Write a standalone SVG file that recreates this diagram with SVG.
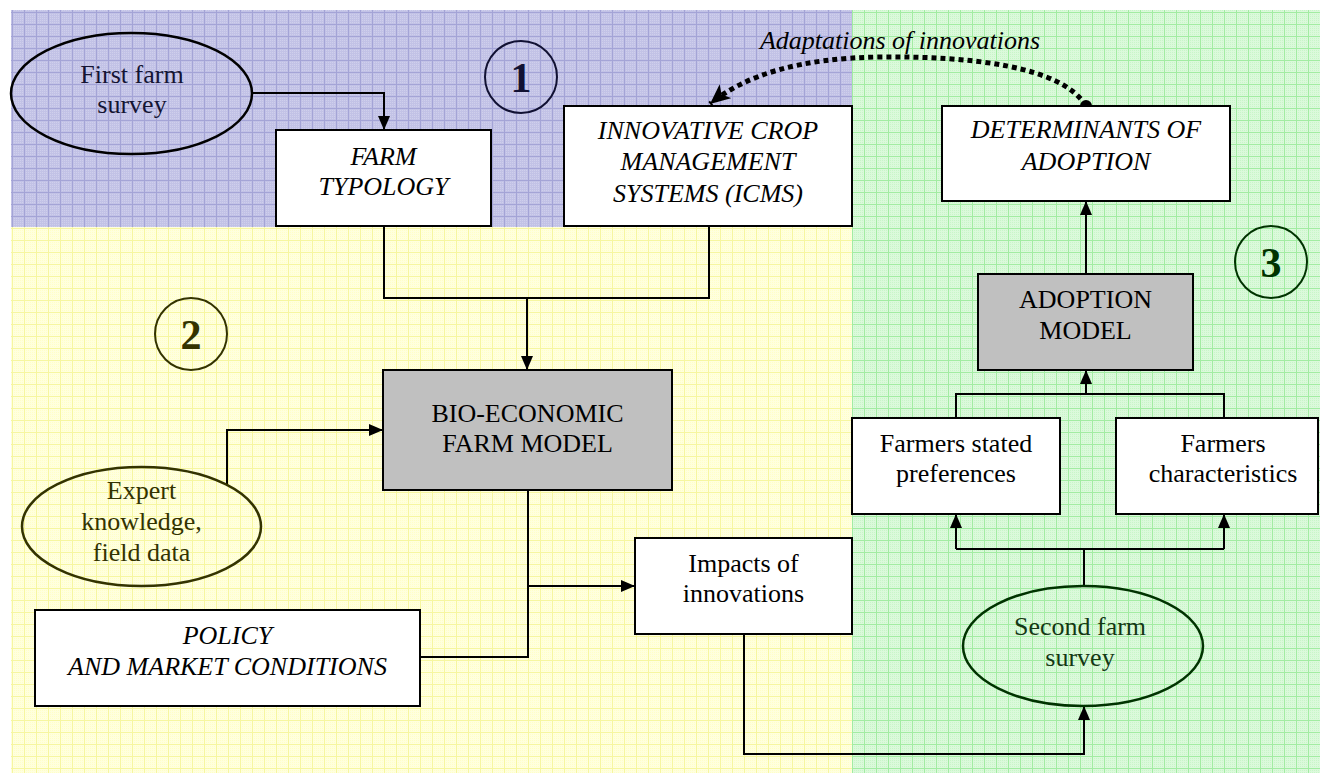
<svg xmlns="http://www.w3.org/2000/svg" width="1320" height="773" viewBox="0 0 1320 773">
<defs>
  <pattern id="pBlue" width="12" height="12" patternUnits="userSpaceOnUse">
    <rect width="12" height="12" fill="#cfcfec"/>
    <path d="M0,1.5H12M0,3.5H12M0,5.5H12M0,7.5H12M0,9.5H12M0,11.5H12M1.5,0V12M3.5,0V12M5.5,0V12M7.5,0V12M9.5,0V12M11.5,0V12" stroke="#a9a9d9" stroke-width="1" opacity="0.35"/>
    <path d="M0,0.5H12M0.5,0V12" stroke="#a4a4d6" stroke-width="1"/>
  </pattern>
  <pattern id="pYellow" width="12" height="12" patternUnits="userSpaceOnUse">
    <rect width="12" height="12" fill="#ffffc8"/>
    <path d="M0,1.5H12M0,3.5H12M0,5.5H12M0,7.5H12M0,9.5H12M0,11.5H12M1.5,0V12M3.5,0V12M5.5,0V12M7.5,0V12M9.5,0V12M11.5,0V12" stroke="#ffffff" stroke-width="1" opacity="0.4"/>
    <path d="M0,0.5H12M0.5,0V12" stroke="#f6f6a0" stroke-width="1"/>
  </pattern>
  <pattern id="pGreen" width="12" height="12" patternUnits="userSpaceOnUse">
    <rect width="12" height="12" fill="#c8f6c8"/>
    <path d="M0,1.5H12M0,3.5H12M0,5.5H12M0,7.5H12M0,9.5H12M0,11.5H12M1.5,0V12M3.5,0V12M5.5,0V12M7.5,0V12M9.5,0V12M11.5,0V12" stroke="#ffffff" stroke-width="1" opacity="0.35"/>
    <path d="M0,0.5H12M0.5,0V12" stroke="#a2eca2" stroke-width="1"/>
  </pattern>
  <marker id="arr" viewBox="0 0 14 12" markerWidth="14" markerHeight="12" refX="14" refY="6" orient="auto" markerUnits="userSpaceOnUse">
    <path d="M0,0 L14,6 L0,12 z" fill="#000"/>
  </marker>
  <marker id="arrBig" viewBox="0 0 20 18" markerWidth="20" markerHeight="18" refX="20" refY="9" orient="auto" markerUnits="userSpaceOnUse">
    <path d="M0,0 L20,9 L0,18 L5,9 z" fill="#000"/>
  </marker>
  <marker id="dot" viewBox="0 0 12 12" markerWidth="12" markerHeight="12" refX="6" refY="6" markerUnits="userSpaceOnUse">
    <circle cx="6" cy="6" r="6" fill="#000"/>
  </marker>
  <style>
    text { font-family: "Liberation Serif", "Times New Roman", serif; font-size: 26px; fill: #000; text-anchor: middle; }
    .it { font-style: italic; }
    .num { font-size: 42px; font-weight: bold; }
    .box { fill: #fff; stroke: #000; stroke-width: 2; }
    .gbox { fill: #c0c0c0; stroke: #000; stroke-width: 2; }
    .conn { fill: none; stroke: #000; stroke-width: 2; }
    .ell { fill: none; stroke-width: 2.5; }
  </style>
</defs>

<g id="background">
  <rect x="0" y="0" width="1320" height="773" fill="#fff"/>
  <rect x="11" y="10" width="841" height="217" fill="url(#pBlue)"/>
  <rect x="11" y="227" width="841" height="546" fill="url(#pYellow)"/>
  <rect x="852" y="10" width="468" height="763" fill="url(#pGreen)"/>
</g>

<g id="connectors">
  <path class="conn" d="M252,93 H384 V130" marker-end="url(#arr)"/>
  <path class="conn" d="M384,226 V298 H709 V226"/>
  <path class="conn" d="M527,298 V370" marker-end="url(#arr)"/>
  <path class="conn" d="M227,485 V430 H383" marker-end="url(#arr)"/>
  <path class="conn" d="M420,657 H528 V490"/>
  <path class="conn" d="M528,586 H635" marker-end="url(#arr)"/>
  <path class="conn" d="M744,634 V754 H1084 V706" marker-end="url(#arr)"/>
  <path class="conn" d="M1084,586 V549"/>
  <path class="conn" d="M956,549 H1224"/>
  <path class="conn" d="M956,549 V514" marker-end="url(#arr)"/>
  <path class="conn" d="M1224,549 V514" marker-end="url(#arr)"/>
  <path class="conn" d="M956,418 V394 H1224 V418"/>
  <path class="conn" d="M1086,394 V370" marker-end="url(#arr)"/>
  <path class="conn" d="M1086,274 V201" marker-end="url(#arr)"/>
  <path d="M1086,106 C1062,66 970,56 880,57 C800,58 745,75 710,104" fill="none" stroke="#000" stroke-width="5" stroke-dasharray="5 4" marker-start="url(#dot)" marker-end="url(#arrBig)"/>
  <text class="it" x="900" y="49">Adaptations of innovations</text>
</g>

<g id="first-survey">
  <ellipse class="ell" cx="131.5" cy="93.5" rx="120.5" ry="60.5" stroke="#000"/>
  <text x="132" y="83" style="fill:#141433">First farm</text>
  <text x="132" y="113" style="fill:#141433">survey</text>
</g>

<g id="circle-1">
  <circle cx="521" cy="77" r="36" fill="none" stroke="#111133" stroke-width="2"/>
  <text class="num" x="521" y="92" style="fill:#111133">1</text>
</g>

<g id="farm-typology">
  <rect class="box" x="276" y="130" width="215" height="96"/>
  <text class="it" x="383.5" y="165">FARM</text>
  <text class="it" x="383.5" y="195">TYPOLOGY</text>
</g>

<g id="icms">
  <rect class="box" x="564" y="106" width="288" height="120"/>
  <text class="it" x="708" y="139">INNOVATIVE CROP</text>
  <text class="it" x="708" y="170">MANAGEMENT</text>
  <text class="it" x="708" y="202">SYSTEMS (ICMS)</text>
</g>

<g id="determinants">
  <rect class="box" x="942" y="106" width="288" height="95"/>
  <text class="it" x="1086" y="138">DETERMINANTS OF</text>
  <text class="it" x="1086" y="170">ADOPTION</text>
</g>

<g id="circle-2">
  <circle cx="191" cy="334" r="36" fill="none" stroke="#333300" stroke-width="2"/>
  <text class="num" x="191" y="349" style="fill:#333300">2</text>
</g>

<g id="circle-3">
  <circle cx="1271" cy="262" r="36" fill="none" stroke="#003300" stroke-width="2"/>
  <text class="num" x="1271" y="277" style="fill:#003300">3</text>
</g>

<g id="adoption-model">
  <rect class="gbox" x="978" y="274" width="215" height="96"/>
  <text x="1085.5" y="308">ADOPTION</text>
  <text x="1085.5" y="339">MODEL</text>
</g>

<g id="bio-economic">
  <rect class="gbox" x="383" y="370" width="289" height="120"/>
  <text x="527.5" y="422">BIO-ECONOMIC</text>
  <text x="527.5" y="452">FARM MODEL</text>
</g>

<g id="expert">
  <ellipse class="ell" cx="141.5" cy="526.5" rx="119.5" ry="59.5" stroke="#333300"/>
  <text x="141.5" y="499" style="fill:#333300">Expert</text>
  <text x="141.5" y="530" style="fill:#333300">knowledge,</text>
  <text x="141.5" y="561" style="fill:#333300">field data</text>
</g>

<g id="policy">
  <rect class="box" x="35" y="610" width="385" height="96"/>
  <text class="it" x="227.5" y="644">POLICY</text>
  <text class="it" x="227.5" y="675">AND MARKET CONDITIONS</text>
</g>

<g id="impacts">
  <rect class="box" x="635" y="538" width="217" height="96"/>
  <text x="743.5" y="572">Impacts of</text>
  <text x="743.5" y="602">innovations</text>
</g>

<g id="stated-preferences">
  <rect class="box" x="852" y="418" width="208" height="96"/>
  <text x="956" y="452">Farmers stated</text>
  <text x="956" y="482">preferences</text>
</g>

<g id="characteristics">
  <rect class="box" x="1116" y="418" width="202" height="96"/>
  <text x="1223" y="452">Farmers</text>
  <text x="1223" y="482">characteristics</text>
</g>

<g id="second-survey">
  <ellipse class="ell" cx="1083" cy="646" rx="120" ry="60" stroke="#003300"/>
  <text x="1080" y="635" style="fill:#143814">Second farm</text>
  <text x="1080" y="666" style="fill:#143814">survey</text>
</g>
</svg>
